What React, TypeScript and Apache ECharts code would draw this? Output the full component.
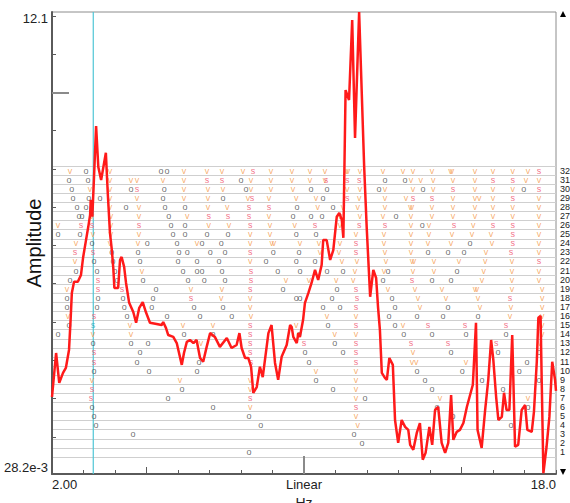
import React, { useEffect, useRef } from 'react';
import * as echarts from 'echarts';

const X_MIN = 2;
const X_MAX = 18;
const Y_MIN = 0.0282;
const Y_MAX = 12.1;
const CURSOR_HZ = 3.31;

const FREQ_HZ = [
  2.00, 2.13, 2.23, 2.35, 2.44, 2.54, 2.59, 2.63, 2.70, 2.82,
  2.92, 2.99, 3.08, 3.15, 3.21, 3.23, 3.28, 3.33, 3.40, 3.47,
  3.56, 3.71, 3.77, 3.84, 3.90, 3.95, 3.98, 4.10, 4.16, 4.21,
  4.29, 4.35, 4.45, 4.58, 4.67, 4.77, 4.88, 4.98, 5.11, 5.32,
  5.48, 5.53, 5.62, 5.69, 5.85, 5.96, 6.12, 6.19, 6.28, 6.38,
  6.49, 6.59, 6.70, 6.80, 6.91, 7.02, 7.17, 7.33, 7.55, 7.70,
  7.86, 7.95, 8.02, 8.13, 8.23, 8.32, 8.39, 8.50, 8.60, 8.69,
  8.87, 8.97, 9.08, 9.18, 9.29, 9.45, 9.56, 9.61, 9.66, 9.77,
  9.82, 9.87, 9.97, 10.03, 10.14, 10.24, 10.35, 10.45, 10.56, 10.61,
  10.72, 10.83, 10.93, 11.04, 11.12, 11.20, 11.25, 11.32, 11.43, 11.53,
  11.62, 11.75, 11.91, 11.99, 12.10, 12.20, 12.29, 12.35, 12.41, 12.47,
  12.57, 12.63, 12.71, 12.82, 12.89, 12.99, 13.10, 13.21, 13.31, 13.37,
  13.47, 13.58, 13.68, 13.77, 13.86, 13.98, 14.07, 14.16, 14.26, 14.37,
  14.48, 14.58, 14.67, 14.74, 14.85, 14.95, 15.06, 15.17, 15.36, 15.46,
  15.51, 15.64, 15.75, 15.85, 15.94, 16.01, 16.10, 16.17, 16.28, 16.35,
  16.43, 16.52, 16.61, 16.70, 16.80, 16.91, 17.02, 17.09, 17.23, 17.30,
  17.39, 17.44, 17.51, 17.55, 17.60, 17.70, 17.79, 17.88, 17.97, 18.00,
];

const AMPLITUDE = [
  2.04, 3.19, 2.41, 2.67, 2.80, 3.27, 4.05, 4.76, 5.05, 5.05,
  5.23, 5.70, 6.14, 6.48, 6.80, 7.19, 6.75, 7.71, 9.12, 8.05,
  7.71, 8.42, 7.37, 6.33, 5.88, 5.36, 4.89, 4.89, 5.62, 5.70,
  5.44, 5.02, 4.50, 4.26, 3.98, 4.37, 4.52, 4.26, 3.98, 3.95,
  3.92, 4.00, 3.84, 3.66, 3.61, 3.45, 2.88, 3.19, 3.48, 3.53,
  3.45, 3.53, 3.06, 2.96, 3.35, 3.71, 3.61, 3.35, 3.58, 3.32,
  3.40, 3.71, 3.32, 3.06, 3.06, 2.83, 2.15, 2.30, 2.83, 2.56,
  3.71, 3.92, 2.93, 2.49, 3.09, 3.40, 3.92, 3.87, 3.61, 3.45,
  3.71, 3.61, 4.05, 4.50, 4.76, 5.02, 5.36, 5.10, 5.49, 6.14,
  6.14, 5.62, 5.88, 6.75, 6.85, 6.67, 6.20, 10.06, 9.80, 11.89,
  8.81, 12.10, 8.06, 6.48, 4.66, 5.36, 5.15, 4.39, 3.79, 2.67,
  2.54, 2.49, 3.06, 2.88, 1.44, 0.84, 1.44, 1.26, 1.18, 0.79,
  0.66, 1.10, 1.36, 0.40, 0.58, 1.26, 0.79, 1.70, 1.78, 0.84,
  0.58, 0.84, 2.09, 0.92, 1.13, 1.18, 1.36, 1.78, 2.36, 3.98,
  1.18, 0.71, 1.70, 2.49, 3.53, 3.01, 2.04, 1.44, 1.52, 2.15,
  1.70, 1.70, 3.66, 0.74, 0.79, 1.70, 1.83, 1.18, 1.13, 1.65,
  2.96, 4.11, 4.16, 2.30, 0.05, 0.74, 1.52, 2.96, 2.49, 2.20,
];

const ROW_LABELS = [
  '1', '2', '3', '4', '5', '6', '7', '8', '9', '10', '11', '12', '13', '14', '15', '16',
  '17', '18', '19', '20', '21', '22', '23', '24', '25', '26', '27', '28', '29', '30', '31', '32',
];

// [row, frequencies in Hz]
const O_ROWS: [number, number[]][] = [
  [32, [3.08, 5.46, 5.65]],
  [31, [2.54, 3.14, 8.00, 12.57, 13.21]],
  [30, [2.63, 4.51, 5.56, 8.16, 10.22, 10.73, 12.38, 13.78, 16.98]],
  [29, [2.67, 3.17, 3.52, 5.52, 7.43, 10.60]],
  [28, [2.79, 3.08, 4.35, 5.59, 6.22, 9.78, 10.92]],
  [27, [2.86, 2.95, 5.71, 9.65, 10.22, 10.57, 12.92]],
  [26, [5.78, 6.22, 13.75]],
  [25, [2.19, 2.89, 5.84, 6.22, 6.92, 7.59, 9.75, 10.38]],
  [24, [3.27, 5.02, 5.97, 6.76, 7.37, 15.27]],
  [23, [3.90, 4.73, 6.03, 6.29, 7.02, 7.49, 9.02, 9.84, 13.94, 14.57, 15.08]],
  [22, [3.33, 3.94, 4.79, 6.00, 6.60, 7.30, 8.79, 9.75, 10.35]],
  [21, [2.76, 3.43, 4.00, 6.16, 6.60, 6.76, 7.40, 9.17, 9.87, 10.73, 11.24, 12.67, 14.86]],
  [20, [2.57, 4.06, 4.89, 6.32, 6.83, 7.49, 12.51, 14.06, 14.67]],
  [19, [5.30, 9.33, 11.05]],
  [18, [2.48, 3.46, 4.25, 5.21, 9.75, 9.87, 10.89, 12.79]],
  [17, [2.48, 3.43, 4.29, 5.17, 6.51, 7.43, 10.60, 11.14, 12.89, 14.57]],
  [16, [4.38, 5.65, 6.70, 7.71, 12.70, 13.59, 14.41, 15.52]],
  [15, [2.54, 10.76, 12.89]],
  [14, [2.19, 6.19, 7.11, 9.84, 13.17, 14.06, 15.14, 16.41]],
  [13, [3.30, 4.51, 5.05, 10.98]],
  [12, [4.79, 10.03, 11.24, 14.67, 16.16, 17.46]],
  [11, [4.70, 6.67, 10.16, 17.08]],
  [10, [3.33, 5.08, 6.60, 13.59, 15.02, 16.83]],
  [9, [10.38, 13.84, 15.65, 17.46]],
  [8, [6.13, 10.92, 14.06, 16.32]],
  [7, [5.68, 11.94]],
  [6, [3.27, 7.11, 14.22, 17.11]],
  [5, [3.33, 8.25, 14.73]],
  [4, [3.40, 8.63, 16.57]],
  [3, [4.57, 11.59]],
  [2, [11.84]],
  [1, [8.25]],
];

const V_ROWS: [number, number[]][] = [
  [32, [2.57, 3.84, 6.19, 6.92, 7.40, 8.06, 8.95, 9.62, 10.19, 10.67, 11.35, 11.40, 11.78, 12.51, 13.14, 13.46, 14.06, 14.65, 14.70, 15.43, 16.00, 16.63, 17.11]],
  [31, [3.84, 4.51, 4.70, 5.52, 6.19, 8.32, 8.95, 9.62, 10.19, 10.67, 13.40, 13.71, 14.10, 14.73, 15.43, 17.05, 17.46]],
  [30, [3.21, 3.84, 6.19, 6.95, 7.43, 8.32, 8.95, 9.65, 11.37, 11.78, 12.57, 13.46, 14.10, 15.43, 16.00, 16.63]],
  [29, [3.84, 4.70, 6.19, 6.95, 8.22, 8.89, 9.75, 10.38, 11.75, 12.57, 13.24, 14.73, 15.43, 15.56, 16.00, 17.46]],
  [28, [3.84, 4.76, 6.95, 7.56, 10.44, 11.24, 11.71, 12.57, 13.37, 13.43, 14.06, 14.73, 15.43, 16.00, 16.63, 17.46]],
  [27, [3.27, 3.87, 4.76, 6.29, 8.89, 11.14, 11.78, 12.51, 13.40, 14.06, 14.73, 15.43, 16.00, 16.63, 17.46]],
  [26, [2.19, 3.87, 6.98, 7.62, 8.92, 9.71, 11.14, 13.40, 13.97, 15.37, 17.46]],
  [25, [3.30, 3.87, 4.76, 8.29, 8.92, 11.65, 12.54, 13.40, 13.97, 14.70, 15.33, 15.94, 17.46]],
  [24, [2.76, 3.84, 4.73, 6.60, 8.29, 8.98, 9.05, 9.87, 10.48, 11.14, 12.54, 13.40, 13.94, 14.67, 15.97, 17.46]],
  [23, [10.51, 11.11, 12.57, 13.40, 15.78, 17.46]],
  [22, [2.73, 8.29, 11.21, 11.68, 12.60, 13.43, 13.49, 14.13, 14.92, 15.75, 16.60]],
  [21, [4.86, 11.62, 12.54, 13.46, 14.13, 15.71, 16.60, 17.46]],
  [20, [9.43, 10.16, 11.02, 11.56, 15.65, 16.60, 17.46]],
  [19, [2.48, 6.41, 7.40, 12.67, 13.52, 14.38, 15.43, 15.49, 16.60, 17.56]],
  [18, [7.37, 8.29, 13.62, 14.51, 15.52, 17.56]],
  [17, [8.29, 13.68, 15.59, 16.57, 17.56]],
  [16, [2.51, 8.32, 10.73, 11.65, 16.54, 17.56]],
  [15, [4.48, 6.16, 7.11, 9.75, 13.14, 17.56]],
  [14, [3.30, 4.51, 10.98, 11.65, 17.56]],
  [13, [6.73, 17.49]],
  [12, [13.46]],
  [11, [13.43, 13.56, 15.14]],
  [10, [10.38, 11.65]],
  [9, [3.27, 6.06, 8.29, 11.65]],
  [8, [8.29, 11.65]],
  [7, [11.65, 14.32, 17.11]],
  [6, [8.29]],
  [5, [11.65]],
  [4, [11.71]],
];

const S_ROWS: [number, number[]][] = [
  [32, [8.38, 17.46]],
  [31, [6.92, 7.40, 10.70, 11.37, 11.75, 16.00, 16.63]],
  [30, [4.70, 14.73, 17.46]],
  [29, [8.35, 11.37, 13.46, 14.06, 16.63]],
  [28, [8.25, 8.89]],
  [27, [6.98, 7.59, 8.25]],
  [26, [2.92, 3.27, 4.76, 8.29, 10.35, 11.75, 12.57, 14.76, 16.00, 16.63]],
  [25, [16.63]],
  [24, [11.65, 16.63]],
  [23, [2.73, 3.30, 8.29, 11.65, 16.57]],
  [22, [17.46]],
  [21, [8.32]],
  [20, [3.46, 8.32, 13.43]],
  [19, [3.46, 4.22, 8.29, 11.65]],
  [18, [6.41, 11.68, 16.54]],
  [17, [11.65]],
  [16, [3.33]],
  [15, [8.29, 11.65, 13.94, 15.11, 16.41]],
  [14, [8.29]],
  [13, [8.29, 10.00, 11.65, 13.40, 14.57, 16.10]],
  [12, [3.33, 8.29, 11.65]],
  [11, [3.33, 8.32, 11.65]],
  [8, [3.27]],
  [7, [3.24, 8.29]],
  [6, [11.65]],
];

const CURSOR_S_ROWS: [number, number[]][] = [[15, [3.30]]];

const FONT = "'Liberation Sans', Arial, sans-serif";

function toPoints(rows: [number, number[]][]) {
  const out: [number, number][] = [];
  rows.forEach(([row, fs]) => fs.forEach((f) => out.push([f, row - 1])));
  return out;
}

function letterSeries(name: string, rows: [number, number[]][], letter: string, color: string) {
  return {
    name,
    type: 'scatter',
    xAxisIndex: 3,
    yAxisIndex: 2,
    symbol: 'circle',
    symbolSize: 1,
    itemStyle: { color: 'rgba(0,0,0,0)' },
    silent: true,
    label: {
      show: true,
      position: 'inside',
      formatter: letter,
      color,
      fontSize: 9,
      fontFamily: FONT,
      offset: [0, -1],
    },
    labelLayout: { hideOverlap: false },
    data: toPoints(rows),
    z: 3,
  };
}

export default function App() {
  const ref = useRef<HTMLDivElement>(null);
  useEffect(() => {
    if (!ref.current) return;
    const chart = echarts.init(ref.current, undefined, { renderer: 'svg' });
    const linePts = FREQ_HZ.map((f, i) => [f, AMPLITUDE[i]]);
    const option: any = {
      animation: false,
      textStyle: { fontFamily: FONT },
      grid: [
        { left: 52, right: 14, top: 12, bottom: 29, containLabel: false, outerBoundsMode: 'none', show: true, borderColor: '#8c8c8c', borderWidth: 1, backgroundColor: 'transparent' },
        { left: 52, right: 14, top: 166, bottom: 46, containLabel: false, outerBoundsMode: 'none' },
      ],
      xAxis: [
        {
          gridIndex: 0, type: 'value', min: X_MIN, max: X_MAX, interval: 1, position: 'bottom',
          axisLine: { show: true, lineStyle: { color: '#5a5a5a', width: 2 } },
          axisTick: { show: true, inside: true, length: 4, lineStyle: { color: '#5a5a5a' } },
          splitLine: { show: false },
          axisLabel: {
            customValues: [2, 10, 18],
            formatter: (v: number) => (v <= 2 ? '2.00' : v >= 18 ? '18.0' : 'Linear'),
            alignMinLabel: 'left', alignMaxLabel: 'right',
            fontSize: 13, color: '#222', margin: 4,
          },
          name: 'Hz', nameLocation: 'middle', nameGap: 22, nameMoveOverlap: false,
          nameTextStyle: { fontSize: 14, color: '#222', verticalAlign: 'top' },
        },
        {
          gridIndex: 0, type: 'value', min: X_MIN, max: X_MAX, position: 'bottom',
          axisLine: { show: false },
          axisTick: { show: true, inside: true, length: 7, customValues: [5, 15], lineStyle: { color: '#5a5a5a' } },
          axisLabel: { show: false }, splitLine: { show: false },
        },
        {
          gridIndex: 0, type: 'value', min: X_MIN, max: X_MAX, position: 'bottom',
          axisLine: { show: false },
          axisTick: { show: true, inside: true, length: 18, customValues: [10], lineStyle: { color: '#8a8a8a', width: 2 } },
          axisLabel: { show: false }, splitLine: { show: false },
        },
        { gridIndex: 1, type: 'value', min: X_MIN, max: X_MAX, show: false },
      ],
      yAxis: [
        {
          gridIndex: 0, type: 'value', min: Y_MIN, max: Y_MAX, position: 'left',
          axisLine: { show: true, lineStyle: { color: '#5a5a5a', width: 2 } },
          axisTick: { show: true, inside: true, length: 4, customValues: [1, 2, 3, 4, 5, 6, 7, 8, 9, 10, 11, 12], lineStyle: { color: '#5a5a5a' } },
          splitLine: { show: false },
          axisLabel: {
            customValues: [Y_MIN, Y_MAX],
            formatter: (v: number) => (v >= 12 ? '12.1' : '28.2e-3'),
            verticalAlignMinLabel: 'bottom', verticalAlignMaxLabel: 'top',
            fontSize: 13, color: '#222', margin: 4,
          },
          name: 'Amplitude', nameLocation: 'middle', nameGap: 8, nameMoveOverlap: false,
          nameTextStyle: { fontSize: 20, color: '#111' },
        },
        {
          gridIndex: 0, type: 'value', min: Y_MIN, max: Y_MAX, position: 'left',
          axisLine: { show: false },
          axisTick: { show: true, inside: true, length: 17, customValues: [10], lineStyle: { color: '#8a8a8a', width: 2 } },
          axisLabel: { show: false }, splitLine: { show: false },
        },
        {
          gridIndex: 1, type: 'category', data: ROW_LABELS, position: 'right',
          axisLine: { show: false }, axisTick: { show: false },
          axisLabel: { fontSize: 9, color: '#222', margin: 4, interval: 0 },
          splitLine: { show: true, interval: 0, lineStyle: { color: '#cfcfcf', width: 1 } },
        },
      ],
      graphic: [
        { type: 'polygon', shape: { points: [[563, 11], [560, 17], [566, 17]] }, style: { fill: '#000' } },
        { type: 'polygon', shape: { points: [[560, 469], [566, 469], [563, 475]] }, style: { fill: '#000' } },
      ],
      series: [
        {
          name: 'cursor-line', type: 'line', xAxisIndex: 0, yAxisIndex: 0,
          data: [[CURSOR_HZ, Y_MIN], [CURSOR_HZ, Y_MAX]],
          showSymbol: false, symbol: 'none', silent: true,
          lineStyle: { color: '#4fc6d6', width: 1.2 },
          z: 2,
        },
        letterSeries('o', O_ROWS, 'o', '#4a4a4a'),
        letterSeries('v', V_ROWS, 'v', '#f59a4c'),
        letterSeries('s', S_ROWS, 's', '#f0506c'),
        letterSeries('cursor', CURSOR_S_ROWS, 's', '#22aabb'),
        {
          type: 'line', xAxisIndex: 0, yAxisIndex: 0,
          data: linePts, showSymbol: false, symbol: 'none',
          lineStyle: { color: '#ff1a1a', width: 2.5 },
          z: 5, silent: true,
        },
      ],
    };
    chart.setOption(option);
    return () => chart.dispose();
  }, []);
  return <div ref={ref} style={{ width: 570, height: 503, position: 'absolute', left: 0, top: 0 }} />;
}
